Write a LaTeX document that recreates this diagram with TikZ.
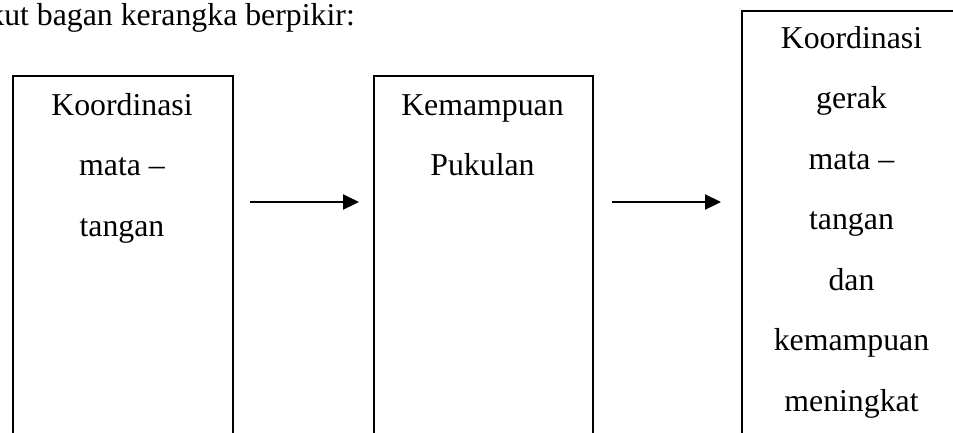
\documentclass[tikz,border=0pt]{standalone}
\usepackage{fontspec}
\setmainfont{Liberation Serif}
\usetikzlibrary{arrows.meta}
\begin{document}
\begin{tikzpicture}[x=1pt,y=-1pt,
  box/.style={draw=black,line width=1.8pt,rectangle,inner sep=0pt,anchor=north west},
  lbl/.style={inner sep=0pt,align=center,font=\fontsize{31.8}{60.5}\selectfont,anchor=base},
  arr/.style={line width=2.2pt,-{Triangle[length=16pt,width=15pt]}}]
\useasboundingbox (0,0) rectangle (953,432);
\clip (0,0) rectangle (953,432);
\node[box,minimum width=220pt,minimum height=420pt] (b1) at (12,75) {};
\node[box,minimum width=219pt,minimum height=420pt] (b2) at (373,75) {};
\node[box,minimum width=221pt,minimum height=480pt] (b3) at (741,10) {};
\node[lbl,anchor=base east] (head) at (355,25) {kut bagan kerangka berpikir:};
\node[lbl] (t1) at (122,236) {Koordinasi\\mata --\\tangan};
\node[lbl] (t2) at (482.5,175.5) {Kemampuan\\Pukulan};
\node[lbl] (t3) at (851.5,411) {Koordinasi\\gerak\\mata --\\tangan\\dan\\kemampuan\\meningkat};
\coordinate (a1s) at (250,202);
\coordinate (a1e) at (359,202);
\coordinate (a2s) at (612,202);
\coordinate (a2e) at (721,202);
\draw[arr] (a1s) -- (a1e);
\draw[arr] (a2s) -- (a2e);
\end{tikzpicture}
\end{document}
